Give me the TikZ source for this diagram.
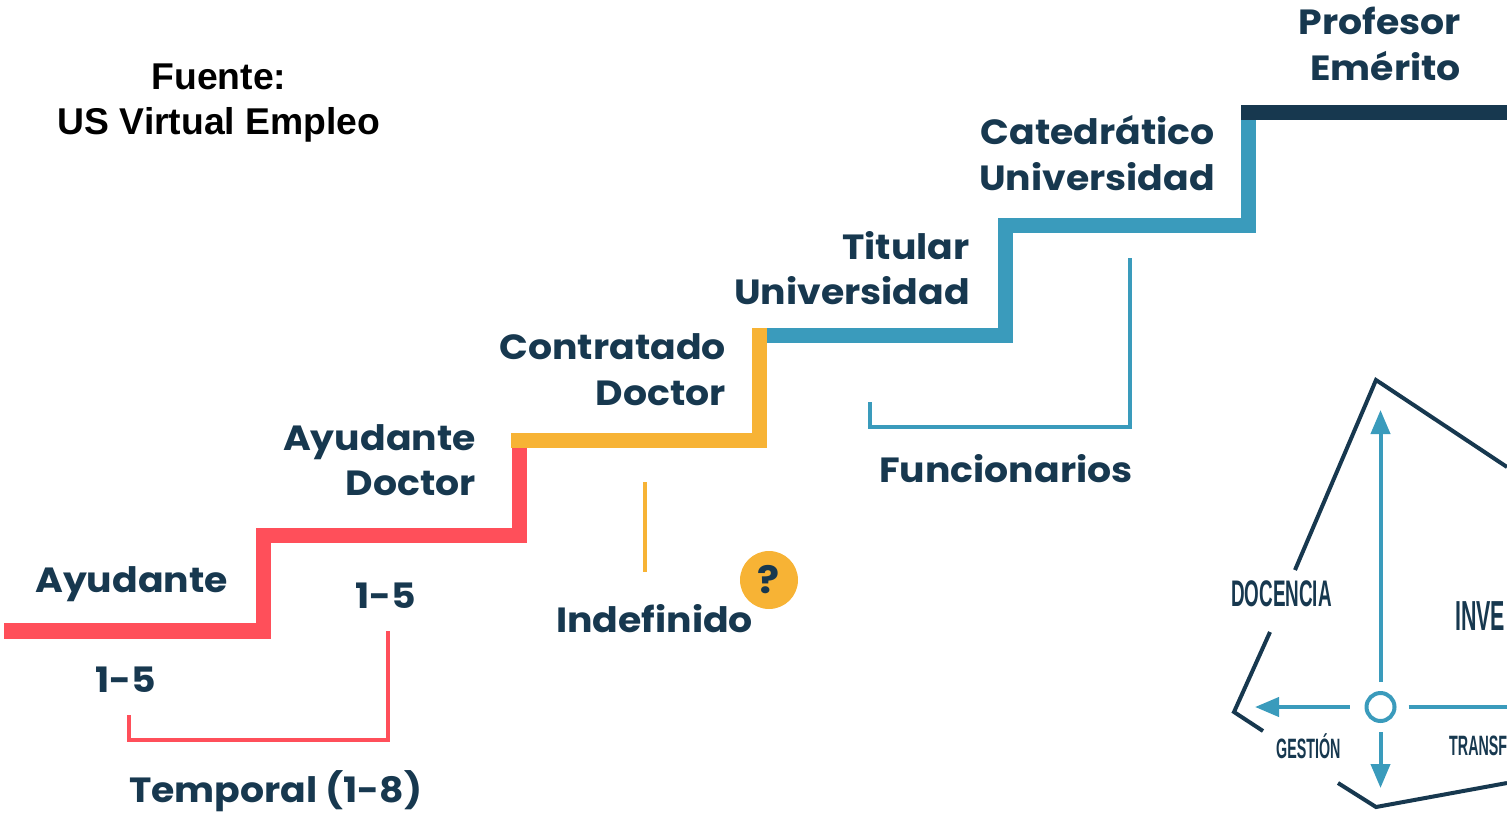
\documentclass[tikz,border=0pt]{standalone}
\usepackage{fontspec}
\setmainfont{Liberation Sans}
\newfontfamily\stepfont[FakeStretch=1.08]{Poppins}
\newfontfamily\axisfont[FakeStretch=0.51]{Liberation Sans}
\definecolor{stepred}{HTML}{FF4F5A}
\definecolor{stepyellow}{HTML}{F7B335}
\definecolor{stepblue}{HTML}{3A9BBC}
\definecolor{stepdark}{HTML}{17384F}
\usetikzlibrary{arrows.meta}
\tikzset{
    stair/.style={line width=15.5pt, line cap=butt, miter limit=10},
    bracket/.style={line width=3.5pt},
    rank/.style={font=\stepfont\bfseries\fontsize{35}{45.5}\selectfont, text=stepdark, inner sep=0pt, align=right},
    axislabel/.style={text=stepdark, inner sep=0pt},
    axisline/.style={stepblue, line width=4pt, -{Triangle[length=24pt, width=19pt]}},
    outline/.style={stepdark, line width=4pt, miter limit=10},
}
\begin{document}
\begin{tikzpicture}[x=1pt, y=-1pt]
    \useasboundingbox (0,0) rectangle (1507,812);

    \node[font=\bfseries\fontsize{37.3}{45}\selectfont, align=center, inner sep=0pt] (source) at (219,103) {Fuente:\\US Virtual Empleo};

    % stairs
    \draw[stair, stepred] (4,631) -- (263.5,631) -- (263.5,535.5) -- (519.5,535.5) -- (519.5,444);
    \draw[stair, stepblue] (756,335.5) -- (1005.5,335.5) -- (1005.5,225.5) -- (1248.5,225.5) -- (1248.5,116);
    \draw[stair, stepyellow] (511,440.5) -- (759.5,440.5) -- (759.5,328);
    \draw[stair, stepdark] (1241,112.5) -- (1507,112.5);

    % ranks
    \node[rank, anchor=west] (ayudante) at (35,584) {Ayudante};
    \node[rank, anchor=east] (ayudoc) at (476,460) {Ayudante\\Doctor};
    \node[rank, anchor=east] (contratado) at (726,369.5) {Contratado\\Doctor};
    \node[rank, anchor=east] (titular) at (970,268) {Titular\\Universidad};
    \node[rank, anchor=east] (catedratico) at (1215,153) {Catedrático\\Universidad};
    \node[rank, anchor=east] (emerito) at (1461,44) {Profesor\\Emérito};

    % groups
    \draw[bracket, stepred] (129,715) -- (129,740) -- (388,740) -- (388,631);
    \node[rank] (years1) at (126,680) {1-5};
    \node[rank] (years2) at (386,596) {1-5};
    \node[rank, anchor=west] (temporal) at (129,791) {Temporal (1-8)};

    \draw[bracket, stepyellow] (645,482) -- (645,572);
    \node[circle, fill=stepyellow, minimum size=58pt, inner sep=0pt, text=stepdark, font=\stepfont\bfseries\fontsize{38}{38}\selectfont] (query) at (769,580) {?};
    \node[rank, anchor=west] (indefinido) at (556,619) {Indefinido};

    \draw[bracket, stepblue] (870,402) -- (870,427) -- (1130,427) -- (1130,258);
    \node[rank, anchor=west] (funcionarios) at (879,469) {Funcionarios};

    % tasks
    \coordinate (top) at (1376,380);
    \coordinate (right) at (1507,467);
    \coordinate (docup) at (1295,570);
    \coordinate (doclow) at (1270,632);
    \coordinate (left) at (1234,712);
    \coordinate (gesup) at (1263,731);
    \coordinate (geslow) at (1338,783);
    \coordinate (bottom) at (1376,807);
    \coordinate (rightlow) at (1507,783);
    \draw[outline] (docup) -- (top) -- (right);
    \draw[outline] (doclow) -- (left) -- (gesup);
    \draw[outline] (geslow) -- (bottom) -- (rightlow);

    \node[circle, draw=stepblue, line width=4pt, minimum size=28pt, inner sep=0pt] (hub) at (1380.5,707) {};
    \coordinate (hubtop) at (1380.5,410);
    \coordinate (hubleft) at (1255,707);
    \coordinate (hubdown) at (1380.5,788);
    \coordinate (hubright) at (1507,707);
    \draw[axisline, shorten <=9pt] (hub.north) -- (hubtop);
    \draw[axisline, shorten <=15pt] (hub.west) -- (hubleft);
    \draw[axisline, shorten <=9pt] (hub.south) -- (hubdown);
    \draw[stepblue, line width=4pt, shorten <=12pt] (hub.east) -- (hubright);

    \node[axislabel, anchor=west, font=\axisfont\bfseries\fontsize{37}{37}\selectfont] (docencia) at (1231,594) {DOCENCIA};
    \node[axislabel, anchor=west, font=\axisfont\bfseries\fontsize{42}{42}\selectfont] (investigacion) at (1455,616) {INVE};
    \node[axislabel, anchor=west, font=\axisfont\bfseries\fontsize{28}{28}\selectfont] (gestion) at (1276,746) {GESTIÓN};
    \node[axislabel, anchor=west, font=\axisfont\bfseries\fontsize{28}{28}\selectfont] (transferencia) at (1449,746) {TRANSF};
\end{tikzpicture}
\end{document}
